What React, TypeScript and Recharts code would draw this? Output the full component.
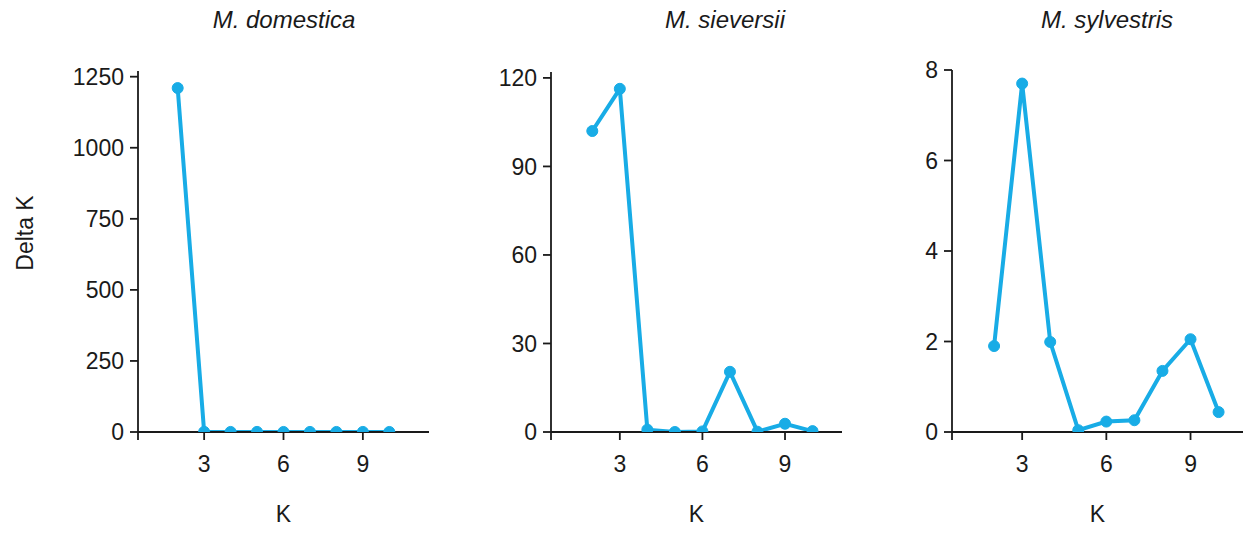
import { Line, LineChart, XAxis, YAxis } from "recharts";

// K = 2..10 for every species
const kValues = [2, 3, 4, 5, 6, 7, 8, 9, 10];

const domesticaDeltaK  = [1210, 0.6, 0.3, 0.4, 0.2, 0.3, 0.2, 0.3, 0.2];
const sieversiiDeltaK  = [102, 116.3, 0.8, 0, 0.2, 20.4, 0.1, 2.8, 0.3];
const sylvestrisDeltaK = [1.9, 7.7, 1.99, 0.04, 0.23, 0.26, 1.35, 2.05, 0.44];

const titles = ["M. domestica", "M. sieversii", "M. sylvestris"];
const xTicks = [3, 6, 9];
const domesticaTicks  = [0, 250, 500, 750, 1000, 1250];
const sieversiiTicks  = [0, 30, 60, 90, 120];
const sylvestrisTicks = [0, 2, 4, 6, 8];

const LINE = "#18ace6";
const INK = "#1a1a1a";
const FONT = '"Liberation Sans", Arial, Helvetica, sans-serif';
const FS = 23;
const H = 533;
const PLOT_BOTTOM = 432;
const X_MIN = 0.5;

// layout of the three panels (page px)
const panels = [
  { title: titles[0], values: domesticaDeltaK,  yMax: 1270, yTicks: domesticaTicks,  xMax: 11.5,  left: 0,   width: 440, plotLeft: 138, plotRight: 429,  plotTop: 71, titleX: 284 },
  { title: titles[1], values: sieversiiDeltaK,  yMax: 122,  yTicks: sieversiiTicks,  xMax: 11.07, left: 440, width: 410, plotLeft: 551, plotRight: 842,  plotTop: 72, titleX: 725 },
  { title: titles[2], values: sylvestrisDeltaK, yMax: 8,    yTicks: sylvestrisTicks, xMax: 10.87, left: 850, width: 397, plotLeft: 952, plotRight: 1243, plotTop: 70, titleX: 1107 },
];

const text = (x: number, y: number, extra: React.CSSProperties = {}): React.CSSProperties => ({
  position: "absolute",
  left: x - 150,
  top: y - 15,
  width: 300,
  height: 30,
  lineHeight: "30px",
  textAlign: "center",
  fontFamily: FONT,
  fontSize: FS,
  color: INK,
  ...extra,
});

export default function App() {
  return (
    <div style={{ position: "absolute", left: 0, top: 0, width: 1247, height: H, background: "#fff", overflow: "hidden" }}>
      {panels.map((p) => {
        const rows = kValues.map((k, i) => ({ k, v: p.values[i] }));
        return (
          <div key={p.title} style={{ position: "absolute", left: p.left, top: 0 }}>
            <LineChart
              width={p.width}
              height={H}
              data={rows}
              margin={{ top: p.plotTop, right: p.left + p.width - p.plotRight, bottom: 0, left: 0 }}
            >
              <XAxis
                dataKey="k"
                type="number"
                domain={[X_MIN, p.xMax]}
                ticks={[X_MIN, ...xTicks]}
                tickFormatter={(v: number) => (v === X_MIN ? "" : String(v))}
                interval={0}
                allowDataOverflow
                height={H - PLOT_BOTTOM}
                tickSize={8}
                tickMargin={16}
                stroke={INK}
                strokeWidth={1.8}
                tick={{ fill: INK, fontSize: FS, fontFamily: FONT }}
              />
              <YAxis
                type="number"
                domain={[0, p.yMax]}
                ticks={p.yTicks}
                interval={0}
                allowDataOverflow
                width={p.plotLeft - p.left}
                tickSize={8}
                tickMargin={6}
                stroke={INK}
                strokeWidth={1.8}
                tick={{ fill: INK, fontSize: FS, fontFamily: FONT }}
              />
              <Line
                type="linear"
                dataKey="v"
                stroke={LINE}
                strokeWidth={4}
                dot={{ r: 5.5, fill: LINE, stroke: LINE, strokeWidth: 1 }}
                isAnimationActive={false}
              />
            </LineChart>
          </div>
        );
      })}
      {panels.map((p) => (
        <div key={p.title + "-t"} style={text(p.titleX, 20, { fontStyle: "italic", fontSize: 24 })}>{p.title}</div>
      ))}
      {panels.map((p) => (
        <div key={p.title + "-k"} style={text((p.plotLeft + p.plotRight) / 2, 514)}>K</div>
      ))}
      <div style={text(25, 233, { transform: "rotate(-90deg)" })}>Delta K</div>
    </div>
  );
}
